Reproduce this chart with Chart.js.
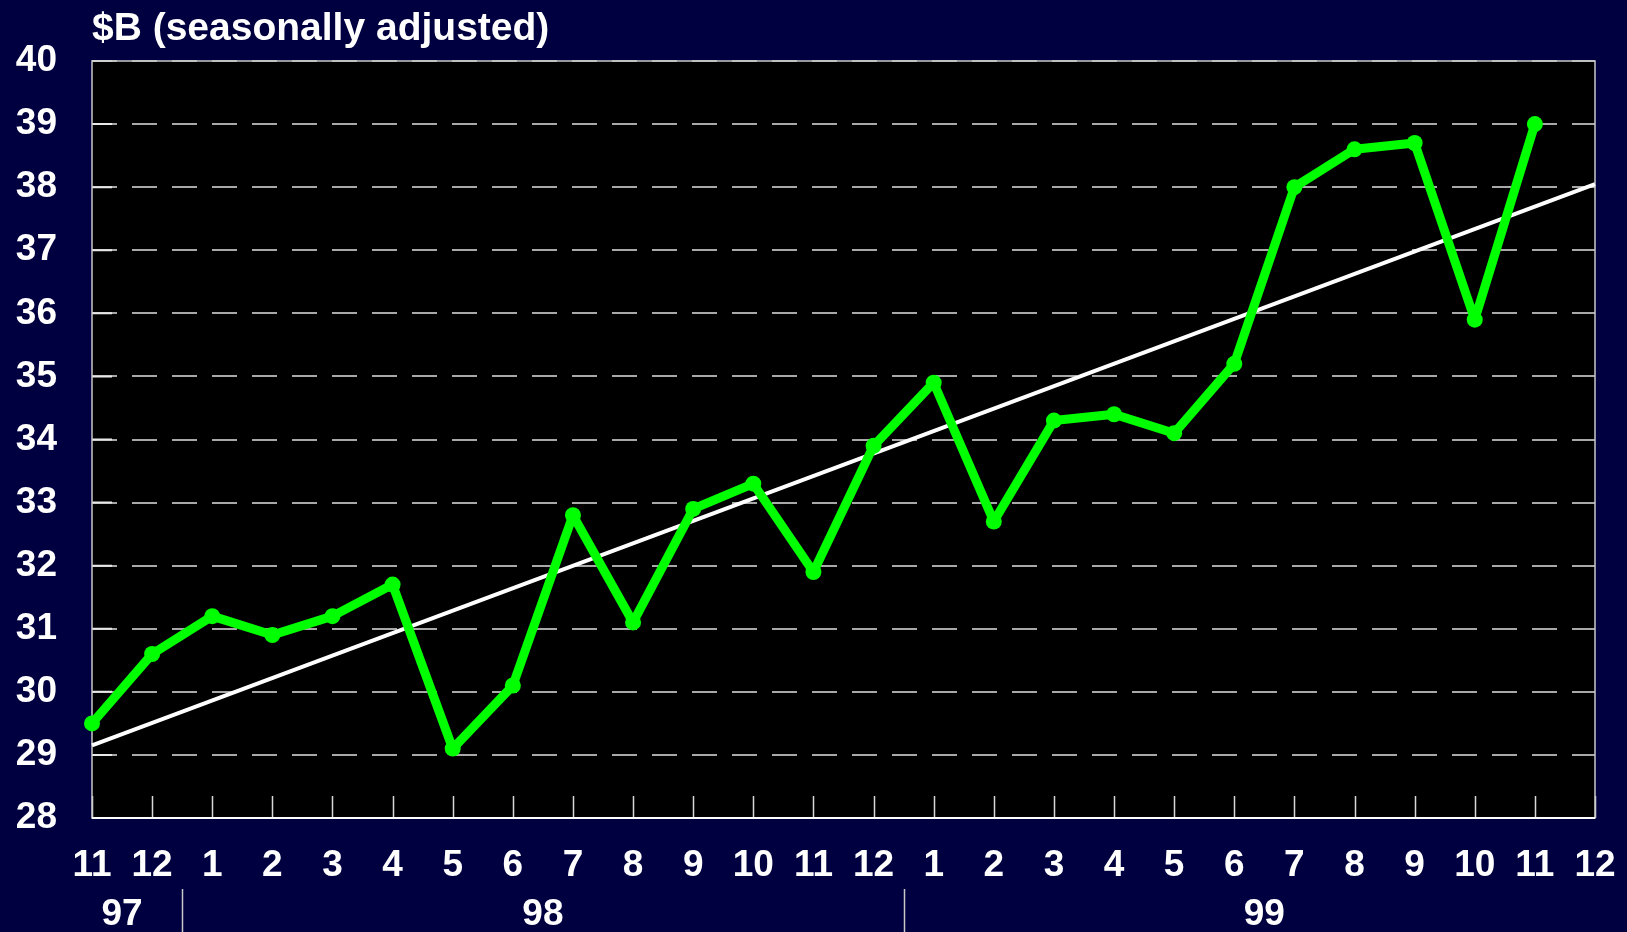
<!DOCTYPE html>
<html>
<head>
<meta charset="utf-8">
<script src="https://cdn.jsdelivr.net/npm/chart.js@4.4.0/dist/chart.umd.min.js"></script>
<style>
  html, body { margin: 0; padding: 0; background: #000040; }
  #wrap { width: 1627px; height: 932px; position: relative; }
</style>
</head>
<body>
<div id="wrap"><canvas id="chart"></canvas></div>
<script>
// month labels from 11/97 to 12/99
const months = ["11", "12", "1", "2", "3", "4", "5", "6", "7", "8", "9", "10", "11", "12",
                "1", "2", "3", "4", "5", "6", "7", "8", "9", "10", "11", "12"];
const years = ["97", "98", "99"];
// first and last month index of each year
const year_first = [0, 2, 14];
const year_last = [1, 13, 25];

const sales = [29.5, 30.6, 31.2, 30.9, 31.2, 31.7, 29.1, 30.1, 32.8, 31.1, 32.9, 33.3, 31.9, 33.9,
               34.9, 32.7, 34.3, 34.4, 34.1, 35.2, 38.0, 38.6, 38.7, 35.9, 39.0, null];
const trend = [29.15, null, null, null, null, null, null, null, null, null, null, null, null, null,
               null, null, null, null, null, null, null, null, null, null, null, 38.05];

const y_ticks_min = 28;
const y_ticks_max = 40;

const font_name = "'Liberation Sans', Arial, sans-serif";

const decor = {
  id: "decor",
  beforeDraw(chart) {
    const ctx = chart.ctx;
    const a = chart.chartArea;
    ctx.save();
    ctx.fillStyle = "#000040";
    ctx.fillRect(0, 0, chart.width, chart.height);
    ctx.fillStyle = "#000000";
    ctx.fillRect(a.left, a.top, a.right - a.left, a.bottom - a.top);
    ctx.restore();
  },
  beforeDatasetsDraw(chart) {
    const ctx = chart.ctx;
    const a = chart.chartArea;
    const x = chart.scales.x;
    const y = chart.scales.y;
    ctx.save();
    // small ticks inside the plot
    ctx.strokeStyle = "#d8d8d8";
    ctx.lineWidth = 1.5;
    ctx.beginPath();
    for (let i = 0; i < months.length; i++) {
      const px = Math.round(x.getPixelForValue(i)) + 0.5;
      ctx.moveTo(px, a.bottom);
      ctx.lineTo(px, a.bottom - 22);
    }
    ctx.stroke();
    ctx.strokeStyle = "#e8e8e8";
    ctx.lineWidth = 2;
    ctx.beginPath();
    for (const t of y.ticks) {
      const py = y.getPixelForValue(t.value);
      ctx.moveTo(a.left, py);
      ctx.lineTo(a.left + 20, py);
    }
    ctx.stroke();
    // border
    ctx.strokeStyle = "#c8c8c8";
    ctx.lineWidth = 1.5;
    ctx.strokeRect(a.left, a.top, a.right - a.left, a.bottom - a.top);
    ctx.strokeStyle = "#ffffff";
    ctx.lineWidth = 2;
    ctx.beginPath();
    ctx.moveTo(a.left, a.bottom);
    ctx.lineTo(a.right, a.bottom);
    ctx.stroke();
    ctx.restore();
  },
  afterDraw(chart) {
    const ctx = chart.ctx;
    const a = chart.chartArea;
    const x = chart.scales.x;
    ctx.save();
    ctx.fillStyle = "#ffffff";
    ctx.font = "bold 39px " + font_name;
    ctx.textBaseline = "middle";
    ctx.textAlign = "left";
    ctx.fillText("$B (seasonally adjusted)", a.left, 29);

    ctx.font = "bold 37px " + font_name;
    ctx.textAlign = "center";
    for (let i = 0; i < years.length; i++) {
      const cx = (x.getPixelForValue(year_first[i]) + x.getPixelForValue(year_last[i])) / 2;
      ctx.fillText(years[i], cx, 915);
    }
    ctx.strokeStyle = "#c8c8c8";
    ctx.lineWidth = 1.5;
    ctx.beginPath();
    for (let i = 1; i < years.length; i++) {
      const sx = Math.round((x.getPixelForValue(year_first[i]) + x.getPixelForValue(year_last[i - 1])) / 2) + 0.5;
      ctx.moveTo(sx, 889);
      ctx.lineTo(sx, 932);
    }
    ctx.stroke();
    ctx.restore();
  }
};

new Chart(document.getElementById("chart"), {
  type: "line",
  data: {
    labels: months,
    datasets: [{
      data: sales,
      borderColor: "#00ff00",
      backgroundColor: "#00ff00",
      borderWidth: 9,
      borderJoinStyle: "round",
      pointRadius: 8,
      pointBorderWidth: 0,
      pointBackgroundColor: "#00ff00",
      tension: 0,
      clip: false,
    }, {
      data: trend,
      borderColor: "#ffffff",
      borderWidth: 4,
      pointRadius: 0,
      spanGaps: true,
      tension: 0,
    }]
  },
  options: {
    responsive: true,
    maintainAspectRatio: false,
    animation: false,
    events: [],
    layout: { padding: { top: 61, right: 32, bottom: 0, left: 0 } },
    plugins: {
      legend: { display: false },
      tooltip: { enabled: false },
    },
    scales: {
      x: {
        type: "category",
        offset: false,
        grid: { display: false, drawTicks: false },
        border: { display: false },
        ticks: {
          color: "#ffffff",
          font: { family: font_name, size: 37, weight: "bold" },
          padding: 26,
          maxRotation: 0,
          autoSkip: false,
        },
        afterFit(scale) {
          scale.height = 114;
          scale.paddingLeft = 0;
          scale.paddingRight = 0;
        },
      },
      y: {
        min: y_ticks_min,
        max: y_ticks_max,
        grid: { color: "#a8a8a8", lineWidth: 2, drawTicks: false },
        border: { display: false, dash: [25, 15] },
        ticks: {
          stepSize: 1,
          color: "#ffffff",
          font: { family: font_name, size: 37, weight: "bold" },
          padding: 35,
        },
        afterFit(scale) { scale.width = 92; },
      },
    },
  },
  plugins: [decor],
});
</script>
</body>
</html>
